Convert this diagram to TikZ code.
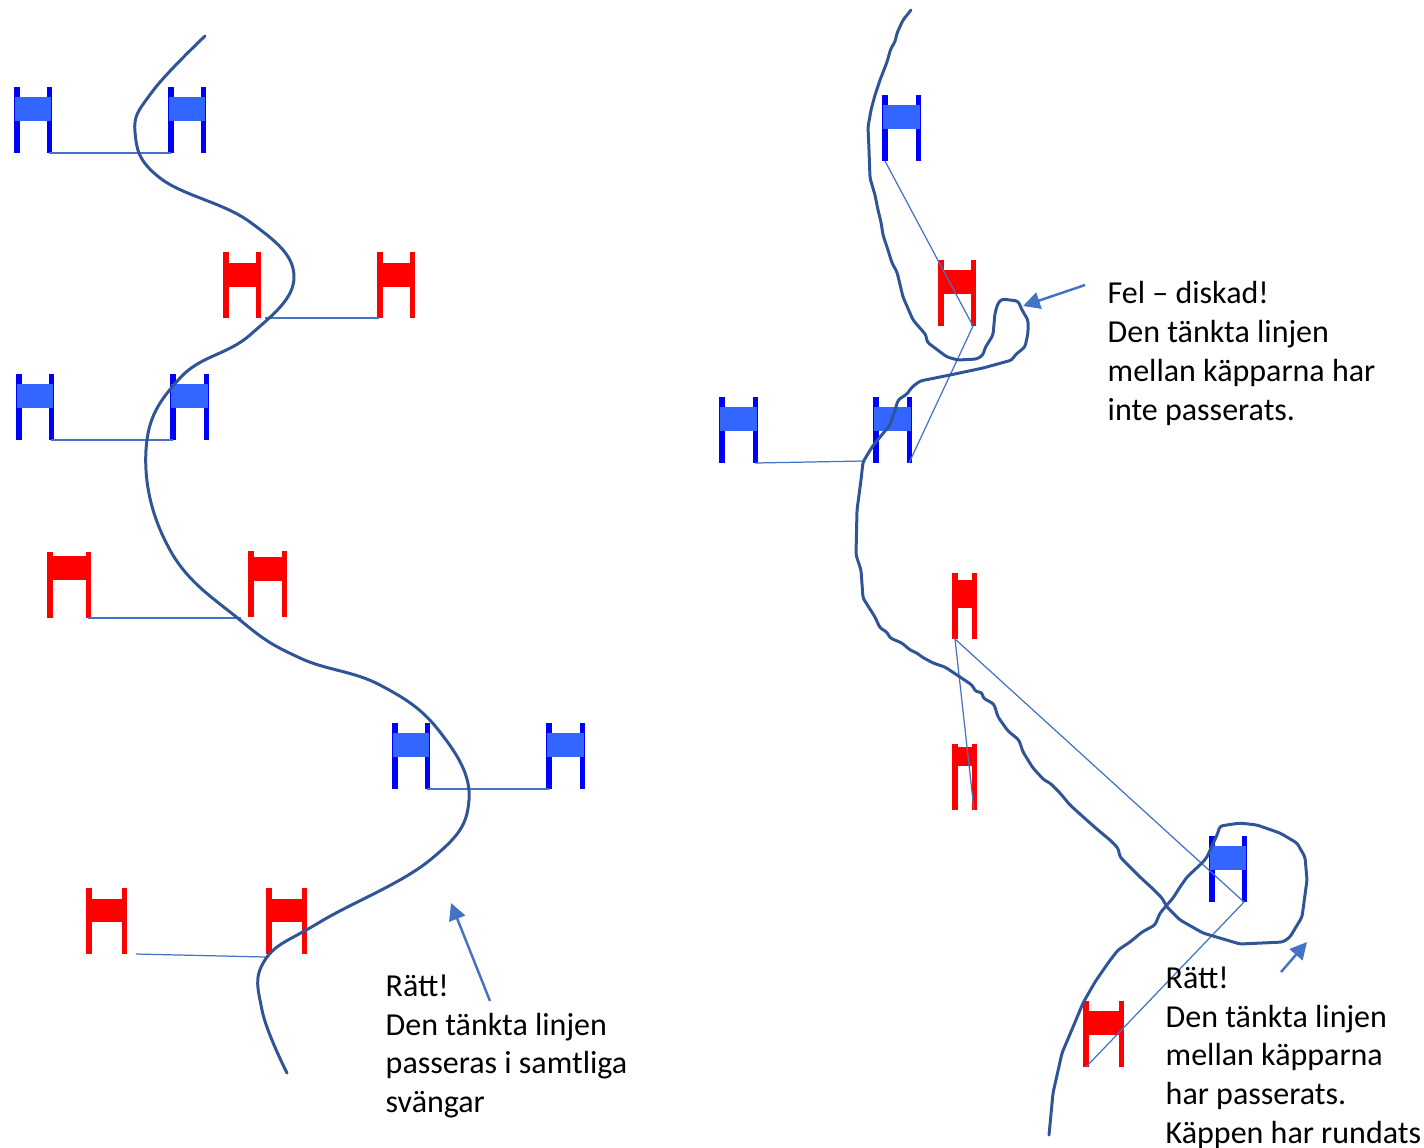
\documentclass[tikz,border=0pt]{standalone}
\usepackage{fontspec}
\setmainfont{Carlito}
\usetikzlibrary{arrows.meta}
\definecolor{poleblue}{HTML}{0000FF}
\definecolor{bannerblue}{HTML}{3366FF}
\definecolor{polered}{HTML}{FF0000}
\definecolor{thinblue}{HTML}{4472C4}
\definecolor{trackblue}{HTML}{2F5597}
\tikzset{
  track/.style={draw=trackblue,line width=0.85pt,line join=round,line cap=round},
  gateline/.style={draw=thinblue,line width=0.35pt},
  pointer/.style={draw=thinblue,line width=0.7pt,-{Triangle[length=4.8pt,width=4.8pt]}},
  note/.style={anchor=north west,align=left,inner sep=0pt,font=\fontsize{9.1}{11.04}\selectfont}
}
% name, x, top, width, pole colour, banner colour, banner from, banner to
\newcommand{\gate}[8]{
  \fill[#5] (#2,#3) rectangle ++(5.5,66);
  \fill[#5] (#2+#4-5.5,#3) rectangle ++(5.5,66);
  \fill[#6] (#2+1,#3+#7) rectangle (#2+#4-1,#3+#8);
  \coordinate (#1l) at (#2+3,#3+66);
  \coordinate (#1r) at (#2+#4-3,#3+66);
}

\begin{document}
\begin{tikzpicture}[x=0.01cm,y=-0.01cm]
  \useasboundingbox (0,0) rectangle (1424,1147);
  % Gates, left course
  \gate{a}{14}{87}{38}{poleblue}{bannerblue}{10}{34}
  \gate{b}{168}{87}{38}{poleblue}{bannerblue}{10}{34}
  \gate{c}{223}{252}{38}{polered}{polered}{11}{35}
  \gate{d}{377}{252}{38}{polered}{polered}{11}{35}
  \gate{e}{16}{374}{38}{poleblue}{bannerblue}{10}{34}
  \gate{f}{170}{374}{39}{poleblue}{bannerblue}{10}{34}
  \gate{g}{47}{552}{44}{polered}{polered}{4}{28}
  \gate{h}{248}{551}{39}{polered}{polered}{6}{30}
  \gate{i}{392}{723}{38}{poleblue}{bannerblue}{10}{34}
  \gate{j}{546}{723}{39}{poleblue}{bannerblue}{10}{34}
  \gate{k}{86}{888}{41}{polered}{polered}{11}{34}
  \gate{m}{266}{888}{41}{polered}{polered}{11}{34}
  % Gates, right course
  \gate{n}{882}{95}{39}{poleblue}{bannerblue}{10}{34}
  \gate{p}{938}{260}{38}{polered}{polered}{10}{34}
  \gate{q}{719}{397}{39}{poleblue}{bannerblue}{10}{34}
  \gate{r}{873}{397}{39}{poleblue}{bannerblue}{10}{34}
  \gate{s}{952}{573}{25}{polered}{polered}{7}{35}
  \gate{t}{952}{744}{25}{polered}{polered}{3}{22}
  \gate{u}{1209}{836}{38}{poleblue}{bannerblue}{10}{34}
  \gate{v}{1083}{1001}{41}{polered}{polered}{10}{34}
  % Free line ends
  \coordinate (cfree) at (265,318);
  \coordinate (dfree) at (379,318);
  \coordinate (gfree) at (241,618);
  \coordinate (kfree) at (136,954);
  \coordinate (mfree) at (266,957);
  \coordinate (qfree) at (863,461);
  % Imagined lines
  \draw[gateline] (ar)--(bl);
  \draw[gateline] (cfree)--(dfree);
  \draw[gateline] (er)--(fl);
  \draw[gateline] (gr)--(gfree);
  \draw[gateline] (ir)--(jl);
  \draw[gateline] (kfree)--(mfree);
  \draw[gateline] (nl)--(pr)--(rr);
  \draw[gateline] (qr)--(qfree);
  \draw[gateline] (tr)--(sl)--(ur)--(vl);
  % Left track
  \draw[track] plot[smooth,tension=0.7] coordinates {
    (205,36) (152,92) (135,132) (160,178) (250,222) (294,277) (250,335)
    (180,378) (146,450) (170,550) (240,620) (300,658) (380,685) (440,732)
    (469,800) (430,860) (320,922) (265,960) (262,1010) (287,1073)};
  % Right track
  \draw[track,rounded corners=0.8pt] (911,10)--(903,20)--(897,33)--(895,42)--(891,48)--(887,62)
    --(880,80)--(875,95)--(871,110)--(868,127)--(869,150)--(870,178)
    --(875,195)--(878,210)--(881,222)--(883,235)--(888,250)--(892,263)
    --(897,272)--(903,297)--(913,320)--(926,335)--(927,342)--(947,357)
    --(958,360)--(977,359)--(983,355)--(985,348)--(993,335)--(995,313)
    --(998,303)--(1002,299)--(1018,301)--(1022,310)--(1028,320)--(1028,333)
    --(1025,347)--(1015,355)--(1012,360)--(983,368)--(950,375)--(920,381)
    --(912,387)--(907,394)--(898,400)--(895,410)--(890,425)--(880,437)
    --(872,447)--(863,462)--(861,480)--(857,510)--(856,555)--(861,570)
    --(863,598)--(875,617)--(880,628)--(887,632)--(890,638)--(902,643)
    --(910,650)--(917,653)--(922,657)--(933,663)--(945,667)--(972,685)
    --(976,692)--(982,692)--(983,698)--(994,704)--(998,717)--(1008,731)
    --(1019,740)--(1023,752)--(1033,768)--(1044,780)--(1050,783)--(1060,793)
    --(1070,805)--(1090,823)--(1098,830)--(1110,840)--(1118,848)--(1120,857)
    --(1130,867)--(1140,877)--(1152,888)--(1162,898)--(1167,907)--(1180,920)
    --(1203,933)--(1240,944)--(1283,942)--(1290,937)--(1302,917)--(1307,880)
    --(1305,857)--(1297,843)--(1280,833)--(1257,825)--(1240,823)--(1220,826)
    --(1217,835)--(1207,857)--(1203,862)--(1187,877)--(1180,887)--(1173,898)
    --(1160,913)--(1155,925)--(1142,932)--(1130,942)--(1118,950)--(1108,963)
    --(1095,982)--(1083,1003)--(1073,1027)--(1062,1053)--(1053,1093)--(1049,1135);
  % Notes
  \node[note] (rightnote) at (385,974) {Rätt!\\Den tänkta linjen\\passeras i samtliga\\svängar};
  \node[note] (wrongnote) at (1107,281) {Fel – diskad!\\Den tänkta linjen\\mellan käpparna har\\inte passerats.};
  \node[note] (roundnote) at (1165,966) {Rätt!\\Den tänkta linjen\\mellan käpparna\\har passerats.\\Käppen har rundats};
  % Pointers
  \coordinate (rightstart) at (490,1001);
  \coordinate (rightend) at (451,903);
  \coordinate (wrongstart) at (1085,285);
  \coordinate (wrongend) at (1023,306);
  \coordinate (roundstart) at (1281,972);
  \coordinate (roundend) at (1307,942);
  \draw[pointer] (rightstart)--(rightend);
  \draw[pointer] (wrongstart)--(wrongend);
  \draw[pointer] (roundstart)--(roundend);
\end{tikzpicture}
\end{document}
